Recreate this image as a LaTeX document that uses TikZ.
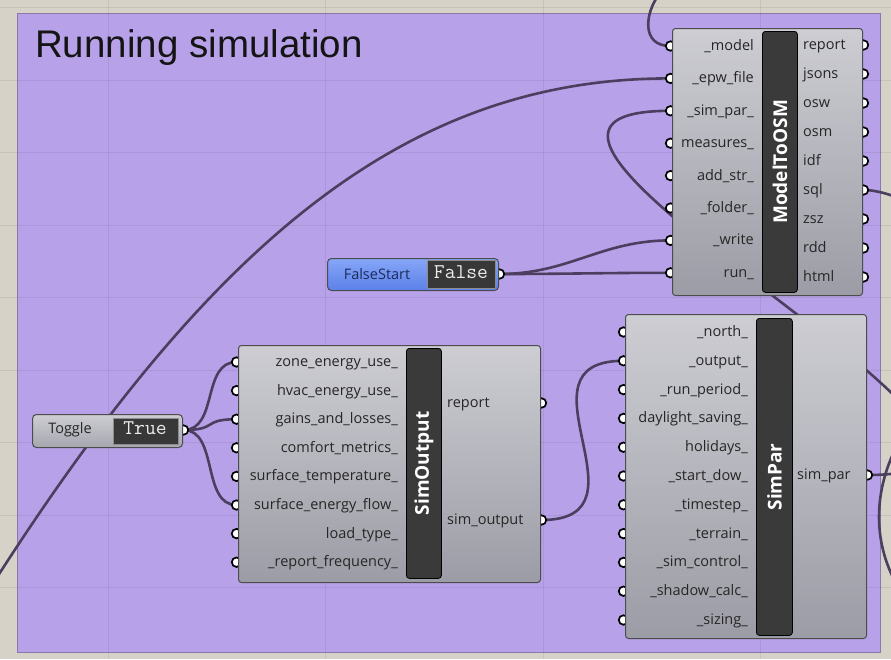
\documentclass[tikz,border=0pt]{standalone}
\usepackage{fontspec}
\setmainfont{Open Sans}
\newfontfamily\titlefont{Liberation Sans}
\usetikzlibrary{calc}
\pgfdeclarelayer{canvas}
\pgfdeclarelayer{wires}
\pgfdeclarelayer{ports}
\pgfsetlayers{canvas,wires,ports,main}

\definecolor{canvasbg}{HTML}{D6D2C8}
\definecolor{groupbg}{HTML}{B7A2E9}
\definecolor{wirec}{HTML}{4B3E5E}
\definecolor{bodytop}{HTML}{CDCDD3}
\definecolor{bodybot}{HTML}{9C9CA6}
\definecolor{barc}{HTML}{3A3A3A}
\definecolor{labelc}{HTML}{262626}
\definecolor{bluetop}{HTML}{86A6F7}
\definecolor{bluebot}{HTML}{5B80E8}
\definecolor{navytext}{HTML}{1C2B5C}

\begin{document}
\begin{tikzpicture}[x=1pt,y=-1pt,
  gridline/.style={draw=black,opacity=0.07,line width=0.8pt},
  groupedge/.style={draw=groupbg!75!black,line width=0.8pt},
  titletext/.style={font=\titlefont\fontsize{38.5}{40}\selectfont,text=black!92,inner sep=0pt},
  ghbody/.style={draw=black!70,line width=1pt,rounded corners=3pt,top color=bodytop,bottom color=bodybot,inner sep=0pt},
  ghbar/.style={draw=black,line width=0.8pt,fill=barc,rounded corners=3pt,inner sep=0pt},
  bartext/.style={rotate=90,text=white,font=\bfseries\fontsize{19}{19}\selectfont,inner sep=0pt},
  plabel/.style={font=\fontsize{14.5}{16}\selectfont,text=labelc,inner sep=0pt},
  inlabel/.style={plabel,anchor=base east},
  outlabel/.style={plabel,anchor=base west},
  inport/.style={circle,draw=black,fill=white,line width=1.7pt,inner sep=0pt,minimum size=9.5pt},
  wire/.style={draw=wirec,line width=2.6pt},
  togglebody/.style={draw=black!70,line width=1pt,rounded corners=4pt,top color=bodytop,bottom color=bodybot!90!white,inner sep=0pt},
  bluebody/.style={draw=black!70,line width=1pt,rounded corners=4pt,top color=bluetop,bottom color=bluebot,inner sep=0pt},
  valbox/.style={draw=black!45,line width=1pt,fill=black!78,inner sep=0pt},
  valtext/.style={font=\ttfamily\fontsize{21}{21}\selectfont,text=black!8,inner sep=0pt},
  widgetlabel/.style={font=\fontsize{14.5}{16}\selectfont,inner sep=0pt}
]
\useasboundingbox (0,0) rectangle (891,659);

% canvas, group and grid
\begin{pgfonlayer}{canvas}
  \fill[canvasbg] (0,0) rectangle (891,659);
  \fill[groupbg] (17,13) rectangle (880,652);
  \draw[groupedge] (17,13) rectangle (880,652);
  \foreach \x in {108,325,543,760} \draw[gridline] (\x,0) -- (\x,659);
  \foreach \y in {7.5,80,152.5,225,297.5,370,442.5,515,587.5} \draw[gridline] (0,\y) -- (891,\y);
\end{pgfonlayer}

\node[titletext,anchor=base west] (title) at (35,57) {Running simulation};

% ---------------- ModelToOSM ----------------
\node[ghbody,anchor=north west,minimum width=190pt,minimum height=267pt] (mto) at (672,28) {};
\node[ghbar,anchor=north west,minimum width=35pt,minimum height=261pt] (mtobar) at (762,31) {};
\node[bartext] at (mtobar.center) {ModelToOSM};
\foreach \lab [count=\i] in {\_model,\_epw\_file,\_sim\_par\_,measures\_,add\_str\_,\_folder\_,\_write,run\_} {
  \pgfmathsetmacro\yy{46+32.4*(\i-1)}
  \begin{pgfonlayer}{ports}\node[inport] (mto-in-\i) at (670.5,\yy) {};\end{pgfonlayer}
  \node[inlabel] at (754,\yy+4.5) {\lab};
}
\foreach \lab [count=\i] in {report,jsons,osw,osm,idf,sql,zsz,rdd,html} {
  \pgfmathsetmacro\yy{45+29*(\i-1)}
  \begin{pgfonlayer}{ports}\node[inport] (mto-out-\i) at (863.5,\yy) {};\end{pgfonlayer}
  \node[outlabel] at (803,\yy+4.5) {\lab};
}

% ---------------- SimOutput ----------------
\node[ghbody,anchor=north west,minimum width=302pt,minimum height=237pt] (so) at (238,345) {};
\node[ghbar,anchor=north west,minimum width=35pt,minimum height=230pt] (sobar) at (406,348) {};
\node[bartext] at (sobar.center) {SimOutput};
\foreach \lab [count=\i] in {zone\_energy\_use\_,hvac\_energy\_use\_,gains\_and\_losses\_,comfort\_metrics\_,surface\_temperature\_,surface\_energy\_flow\_,load\_type\_,\_report\_frequency\_} {
  \pgfmathsetmacro\yy{362+28.6*(\i-1)}
  \begin{pgfonlayer}{ports}\node[inport] (so-in-\i) at (236.5,\yy) {};\end{pgfonlayer}
  \node[inlabel] at (398,\yy+4.5) {\lab};
}
\begin{pgfonlayer}{ports}
  \node[inport] (so-out-1) at (541.5,403) {};
  \node[inport] (so-out-2) at (541.5,520) {};
\end{pgfonlayer}
\node[outlabel] at (447,407.5) {report};
\node[outlabel] at (447,524.5) {sim\_output};

% ---------------- SimPar ----------------
\node[ghbody,anchor=north west,minimum width=241pt,minimum height=324pt] (sp) at (625,314) {};
\node[ghbar,anchor=north west,minimum width=36pt,minimum height=317pt] (spbar) at (756,318) {};
\node[bartext] at (spbar.center) {SimPar};
\foreach \lab [count=\i] in {\_north\_,\_output\_,\_run\_period\_,daylight\_saving\_,holidays\_,\_start\_dow\_,\_timestep\_,\_terrain\_,\_sim\_control\_,\_shadow\_calc\_,\_sizing\_} {
  \pgfmathsetmacro\yy{332+28.8*(\i-1)}
  \begin{pgfonlayer}{ports}\node[inport] (sp-in-\i) at (623.5,\yy) {};\end{pgfonlayer}
  \node[inlabel] at (748,\yy+4.5) {\lab};
}
\begin{pgfonlayer}{ports}\node[inport] (sp-out) at (867.5,475) {};\end{pgfonlayer}
\node[outlabel] at (797,479.5) {sim\_par};

% ---------------- Toggle ----------------
\node[togglebody,anchor=north west,minimum width=150pt,minimum height=33pt] (tog) at (32,414) {};
\node[valbox,anchor=north west,minimum width=65pt,minimum height=26pt] (togval) at (113,418) {};
\node[valtext] at (145,428) {True};
\node[widgetlabel,text=labelc] at (70,430) {Toggle};
\begin{pgfonlayer}{ports}\node[inport] (tog-out) at (183.5,430) {};\end{pgfonlayer}

% ---------------- FalseStart ----------------
\node[bluebody,anchor=north west,minimum width=171pt,minimum height=32pt] (fs) at (327,258) {};
\node[valbox,anchor=north west,minimum width=68pt,minimum height=28pt] (fsval) at (427,260) {};
\node[valtext] at (461,272) {False};
\node[widgetlabel,text=navytext] at (377,274) {FalseStart};
\begin{pgfonlayer}{ports}\node[inport] (fs-out) at (499.5,274) {};\end{pgfonlayer}

% ---------------- wires ----------------
\coordinate (modelsrc) at (658,-4);
\coordinate (epwsrc) at (-30,620);
\coordinate (sqlend) at (905,200);
\coordinate (loopa) at (900,440);
\coordinate (loopb) at (900,590);
\begin{pgfonlayer}{wires}
  \draw[wire] (modelsrc) .. controls (646,12) and (640,46) .. (mto-in-1.center);
  \draw[wire] (epwsrc) .. controls (200,250) and (400,78) .. (mto-in-2.center);
  \draw[wire] (sp-out.center) .. controls +(278,0) and +(-278,0) .. (mto-in-3.center);
  \draw[wire] (so-out-2.center) .. controls +(115,0) and +(-115,0) .. (sp-in-2.center);
  \draw[wire] (tog-out.center) .. controls +(35,0) and +(-35,0) .. (so-in-1.center);
  \draw[wire] (tog-out.center) .. controls +(35,0) and +(-35,0) .. (so-in-3.center);
  \draw[wire] (tog-out.center) .. controls +(35,0) and +(-35,0) .. (so-in-6.center);
  \draw[wire] (fs-out.center) .. controls +(70,0) and +(-70,0) .. (mto-in-7.center);
  \draw[wire] (fs-out.center) .. controls +(70,0) and +(-70,0) .. (mto-in-8.center);
  \draw[wire] (mto-out-6.center) .. controls +(15,0) and +(-12,-4) .. (sqlend);
  \draw[wire] (loopa) .. controls (872,490) and (872,545) .. (loopb);
\end{pgfonlayer}
\end{tikzpicture}
\end{document}
